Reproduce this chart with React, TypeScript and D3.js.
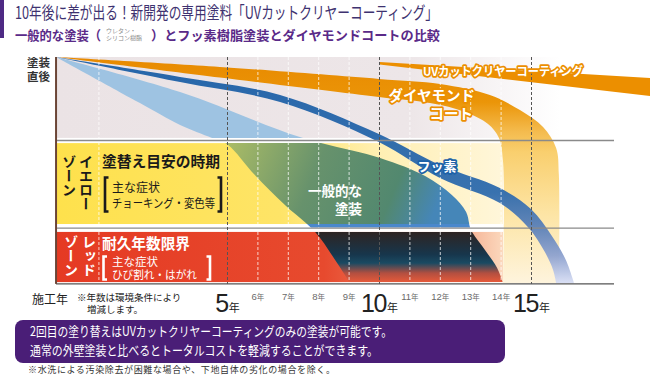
import React from 'react';
import * as d3 from 'd3';

const W = 650;
const H = 380;
const JP = "'Noto Sans CJK JP', 'Noto Sans', sans-serif";

// ---- text content ----
const TITLE = '10年後に差が出る！新開発の専用塗料「UVカットクリヤーコーティング」';
const SUB_A = '一般的な塗装（';
const SUB_NOTE = ['ウレタン・', 'シリコン樹脂'];
const SUB_B = '）とフッ素樹脂塗装とダイヤモンドコートの比較';
const Y_LABEL = ['塗装', '直後'];
const X_TITLE = '施工年';
const X_NOTE = ['※年数は環境条件により', '増減します。'];
const BOX_LINES = [
  '2回目の塗り替えはUVカットクリヤーコーティングのみの塗装が可能です。',
  '通常の外壁塗装と比べるとトータルコストを軽減することができます。',
];
const FOOTNOTE = '※水洗による汚染除去が困難な場合や、下地自体の劣化の場合を除く。';

// ---- axis ----
const MAJOR_YEARS = [5, 10, 15];
const MINOR_YEARS = [6, 7, 8, 9, 11, 12, 13, 14];
const START_YEAR = -0.64; // 施工直後
const END_YEAR = 18.9;
const LABEL_COL_YEAR = 0.77; // label column separator
const ZONE_END_YEAR = 14.06;

// ---- zones (durability level 100 = 塗装直後) ----
const ZONE_TOP = [100, 64.2];
const ZONE_YELLOW = [61.9, 26.1];
const ZONE_RED = [22.6, 0.4];
const ZONE_LINES = [63.05, 24.3, -0.4];

// ---- bands: [year, level] ----
const UV_TOP = [[10, 97.8], [18.9, 90.7]];
const UV_BOTTOM = [[10, 96.7], [18.9, 82.7]];

const DIAMOND_OUTER = [[-0.64, 100], [4.75, 95.6], [9.98, 90.3], [11.99, 88.1], [13.63, 83.2], [14.62, 76.5], [15.38, 69.0], [15.81, 59.7], [15.9, 47.8], [15.9, 0]];
const DIAMOND_INNER = [[-0.64, 100], [4.75, 90.9], [9.98, 82.3], [11.66, 79.6], [12.81, 75.7], [13.57, 70.4], [13.93, 64.2], [14.06, 54.4], [14.06, 0]];

const FLUORO_OUTER = [[-0.64, 100], [3.44, 91.2], [6.73, 83.2], [9.98, 65.9], [11.99, 52.2], [13.96, 42.0], [14.98, 32.7], [15.67, 20.8], [16.13, 10.2], [16.4, 0]];
const FLUORO_INNER = [[-0.64, 100], [3.44, 88.9], [6.73, 80.1], [9.98, 62.4], [11.99, 46.5], [13.96, 35.4], [14.88, 24.8], [15.44, 13.7], [15.71, 5.8], [15.81, 0]];

const GENERAL_OUTER = [[-0.64, 100], [3.44, 84.5], [7.38, 64.6], [10.02, 55.3], [11.5, 47.3], [12.38, 38.9], [12.85, 31.4], [13.01, 23.5], [13.47, 14.6], [13.87, 6.6], [14.06, 0]];
const GENERAL_INNER = [[-0.64, 100], [2.12, 79.6], [3.44, 69.9], [4.65, 63.3], [5.02, 61.1], [5.9, 47.8], [6.89, 34.5], [7.88, 22.6], [8.54, 10.2], [9.03, 0]];

const x = d3.scaleLinear().domain([5, 15]).range([227.5, 531.5]);
const y = d3.scaleLinear().domain([0, 100]).range([283, 57]);

const curved = d3
  .line<number[]>()
  .x((d) => x(d[0]))
  .y((d) => y(d[1]))
  .curve(d3.curveCatmullRom.alpha(0.5));
const straight = d3
  .line<number[]>()
  .x((d) => x(d[0]))
  .y((d) => y(d[1]));

function band(outer: number[][], inner: number[][], gen = curved) {
  const a = gen(outer) as string;
  const b = gen([...inner].reverse()) as string;
  return a + 'L' + b.slice(1) + 'Z';
}

const outline = (color: string, w = 3.5) => ({
  fill: '#fff',
  stroke: color,
  strokeWidth: w,
  strokeLinejoin: 'round' as const,
  paintOrder: 'stroke' as const,
});

export default function App() {
  const x0 = x(START_YEAR);
  const xEnd = x(END_YEAR);
  const xZone = x(ZONE_END_YEAR);
  const xLines = 614;
  const zoneRect = (z: number[]) => ({ y: y(z[0]), h: y(z[1]) - y(z[0]) });
  const zt = zoneRect(ZONE_TOP);
  const zy = zoneRect(ZONE_YELLOW);
  const zr = zoneRect(ZONE_RED);

  const generalPath = band(GENERAL_OUTER, GENERAL_INNER);
  const diamondPath = band(DIAMOND_OUTER, DIAMOND_INNER);
  const fluoroPath = band(FLUORO_OUTER, FLUORO_INNER);
  const uvPath = band(UV_TOP, UV_BOTTOM, straight);

  return (
    <svg width={W} height={H} style={{ position: 'absolute', left: 0, top: 0, background: '#fff' }} fontFamily={JP}>
      <defs>
        <linearGradient id="gTop" gradientUnits="userSpaceOnUse" x1={x0} x2={560} y1={0} y2={0}>
          <stop offset="0" stopColor="#ebe3e5" />
          <stop offset="0.7" stopColor="#ede6e8" />
          <stop offset="1" stopColor="#ffffff" />
        </linearGradient>
        <linearGradient id="gYellow" gradientUnits="userSpaceOnUse" x1={x0} x2={xZone} y1={0} y2={0}>
          <stop offset="0" stopColor="#fee14c" />
          <stop offset="0.5" stopColor="#fee467" />
          <stop offset="0.72" stopColor="#ffefb2" />
          <stop offset="1" stopColor="#fff6da" />
        </linearGradient>
        <linearGradient id="gRed" gradientUnits="userSpaceOnUse" x1={x0} x2={xZone} y1={0} y2={0}>
          <stop offset="0" stopColor="#e53a23" />
          <stop offset="0.6" stopColor="#e74a2e" />
          <stop offset="0.85" stopColor="#f09070" />
          <stop offset="1" stopColor="#fbd8bd" />
        </linearGradient>
        <linearGradient id="gGenYellow" gradientUnits="userSpaceOnUse" x1={230} y1={140} x2={440} y2={228}>
          <stop offset="0" stopColor="#a9bb66" />
          <stop offset="0.4" stopColor="#67926c" />
          <stop offset="0.75" stopColor="#52886f" />
          <stop offset="0.95" stopColor="#4586b8" />
        </linearGradient>
        <linearGradient id="gGenRed" gradientUnits="userSpaceOnUse" x1={0} y1={y(ZONE_RED[0])} x2={0} y2={y(ZONE_RED[1])}>
          <stop offset="0" stopColor="#2e2422" />
          <stop offset="0.45" stopColor="#17364c" />
          <stop offset="0.62" stopColor="#1a4a62" />
          <stop offset="0.82" stopColor="#b24f40" />
          <stop offset="1" stopColor="#e65a3a" />
        </linearGradient>
        <linearGradient id="gDiamond" gradientUnits="userSpaceOnUse" x1={0} y1={y(100)} x2={0} y2={y(0)}>
          <stop offset="0" stopColor="#e88a00" />
          <stop offset="0.2" stopColor="#eb9508" />
          <stop offset="0.33" stopColor="#f4bb4e" />
          <stop offset="0.42" stopColor="#f9cf6e" />
          <stop offset="0.7" stopColor="#fde5a6" />
          <stop offset="1" stopColor="#fef4dd" />
        </linearGradient>
        <linearGradient id="gFluoro" gradientUnits="userSpaceOnUse" x1={0} y1={y(100)} x2={0} y2={y(0)}>
          <stop offset="0" stopColor="#1b5fa6" />
          <stop offset="0.6" stopColor="#2e6bad" />
          <stop offset="0.75" stopColor="#5a80b8" />
          <stop offset="0.88" stopColor="#8ea2cf" />
          <stop offset="1" stopColor="#d8def4" />
        </linearGradient>
        <clipPath id="cTop"><rect x={x0} y={zt.y} width={xEnd - x0} height={zt.h} /></clipPath>
        <clipPath id="cYellow"><rect x={x0} y={zy.y} width={xEnd - x0} height={zy.h} /></clipPath>
        <clipPath id="cYellowEdge"><rect x={x0} y={zy.y + zy.h} width={xEnd - x0} height={3.5} /></clipPath>
        <clipPath id="cRed"><rect x={x0} y={zr.y} width={xEnd - x0} height={zr.h} /></clipPath>
      </defs>

      {/* header */}
      <rect x={0} y={0} width={4} height={38} fill="#4e2a84" />
      <text x={15} y={18.5} fontSize={17} fill="#3e3270" textLength={423} lengthAdjust="spacingAndGlyphs">{TITLE}</text>
      <text x={15} y={40} fontSize={13} fontWeight={700} fill="#5a2a88" textLength={86} lengthAdjust="spacingAndGlyphs">{SUB_A}</text>
      <text x={106} y={32.5} fontSize={6} fill="#8a8a8a">{SUB_NOTE[0]}</text>
      <text x={106} y={40} fontSize={6} fill="#8a8a8a">{SUB_NOTE[1]}</text>
      <text x={151} y={40} fontSize={13} fontWeight={700} fill="#5a2a88" textLength={289} lengthAdjust="spacingAndGlyphs">{SUB_B}</text>

      {/* y label */}
      <text x={27} y={66.5} fontSize={11.5} fontWeight={700} fill="#333">{Y_LABEL[0]}</text>
      <text x={27} y={80.5} fontSize={11.5} fontWeight={700} fill="#333">{Y_LABEL[1]}</text>

      {/* zones */}
      <rect x={x0} y={zt.y} width={560 - x0} height={zt.h} fill="url(#gTop)" />
      <rect x={x0} y={zy.y} width={xZone - x0} height={zy.h} fill="url(#gYellow)" />
      <rect x={x0} y={zr.y} width={xZone - x0} height={zr.h} fill="url(#gRed)" />

      {/* general paint band */}
      <path d={generalPath} fill="#9ec3e2" clipPath="url(#cTop)" />
      <path d={generalPath} fill="url(#gGenYellow)" clipPath="url(#cYellow)" />
      <path d={generalPath} fill="#4a88cc" clipPath="url(#cYellowEdge)" />
      <path d={generalPath} fill="url(#gGenRed)" clipPath="url(#cRed)" />

      {/* diamond coat */}
      <path d={diamondPath} fill="url(#gDiamond)" />
      {/* fluoro */}
      <path d={fluoroPath} fill="url(#gFluoro)" opacity={0.95} />
      {/* UV cut clear */}
      <path d={uvPath} fill="#ec8f00" />

      {/* minor grid */}
      {[LABEL_COL_YEAR, ...MINOR_YEARS].map((yr) => (
        <line key={'mg' + yr} x1={x(yr)} x2={x(yr)} y1={y(100)} y2={y(ZONE_RED[1])} stroke="#fff" strokeOpacity={0.75} strokeWidth={1} strokeDasharray="3,2" />
      ))}

      {/* zone separator lines */}
      {ZONE_LINES.map((lv, i) => (
        <line key={'zl' + i} x1={x0} x2={xLines} y1={y(lv)} y2={y(lv)} stroke={i === 2 ? '#555' : '#8a8a8a'} strokeWidth={1.3} />
      ))}
      {/* major grid */}
      {MAJOR_YEARS.map((yr) => (
        <line key={'MG' + yr} x1={x(yr)} x2={x(yr)} y1={y(100)} y2={y(ZONE_LINES[2])} stroke="#555" strokeWidth={1} strokeDasharray="3,2" />
      ))}
      {/* left axis */}
      <line x1={x0} x2={x0} y1={y(100)} y2={y(ZONE_LINES[2])} stroke="#6b4536" strokeWidth={2} />

      {/* band labels */}
      <text x={503} y={76} fontSize={12} fontWeight={700} textAnchor="middle" textLength={160} lengthAdjust="spacingAndGlyphs" {...outline('#ec8f00')}>UVカットクリヤーコーティング</text>
      <text x={475} y={101} fontSize={14.5} fontWeight={700} textAnchor="end" {...outline('#ec8f00')}>ダイヤモンド</text>
      <text x={473} y={119} fontSize={14.5} fontWeight={700} textAnchor="end" {...outline('#ec8f00')}>コート</text>
      <text x={437} y={171} fontSize={13} fontWeight={700} textAnchor="middle" {...outline('#1d62a8')}>フッ素</text>
      <text x={362} y={196} fontSize={13.5} fontWeight={700} textAnchor="end" fill="#fff">一般的な</text>
      <text x={362} y={213.5} fontSize={13.5} fontWeight={700} textAnchor="end" fill="#fff">塗装</text>

      {/* yellow zone labels */}
      <text x={86} y={155} fontSize={14} fontWeight={700} fill="#1a1a1a" style={{ writingMode: 'vertical-rl' }}>イエロー</text>
      <text x={69} y={155} fontSize={14} fontWeight={700} fill="#1a1a1a" style={{ writingMode: 'vertical-rl' }}>ゾーン</text>
      <text x={102} y={167} fontSize={15} fontWeight={700} fill="#1a1a1a" textLength={118} lengthAdjust="spacingAndGlyphs">塗替え目安の時期</text>
      <path d="M108.5,177.5 H105 V211.5 H108.5" fill="none" stroke="#1a1a1a" strokeWidth={2.6} />
      <path d="M217.5,177.5 H221 V211.5 H217.5" fill="none" stroke="#1a1a1a" strokeWidth={2.6} />
      <text x={112} y={192} fontSize={12} fill="#1a1a1a">主な症状</text>
      <text x={112} y={207.5} fontSize={12} fill="#1a1a1a" textLength={103} lengthAdjust="spacingAndGlyphs">チョーキング・変色等</text>

      {/* red zone labels */}
      <text x={89} y={235} fontSize={14} fontWeight={700} fill="#fff" style={{ writingMode: 'vertical-rl' }}>レッド</text>
      <text x={71} y={235} fontSize={14} fontWeight={700} fill="#fff" style={{ writingMode: 'vertical-rl' }}>ゾーン</text>
      <text x={102} y={249} fontSize={15} fontWeight={700} fill="#fff" textLength={88} lengthAdjust="spacingAndGlyphs">耐久年数限界</text>
      <path d="M107,256.5 H103.5 V279.5 H107" fill="none" stroke="#fff" strokeWidth={2.6} />
      <path d="M206.5,256.5 H210 V279.5 H206.5" fill="none" stroke="#fff" strokeWidth={2.6} />
      <text x={112} y={266} fontSize={11.5} fill="#fff">主な症状</text>
      <text x={112} y={278.5} fontSize={11.5} fill="#fff" textLength={85} lengthAdjust="spacingAndGlyphs">ひび割れ・はがれ</text>

      {/* x axis labels */}
      <text x={32} y={304} fontSize={12} fill="#222">{X_TITLE}</text>
      <text x={77} y={300.5} fontSize={9.5} fill="#222">{X_NOTE[0]}</text>
      <text x={87} y={312.5} fontSize={9.5} fill="#222">{X_NOTE[1]}</text>
      {MAJOR_YEARS.map((yr) => (
        <text key={'ML' + yr} x={x(yr)} y={312} textAnchor="middle" fill="#222" fontFamily="'Liberation Sans', Arial, sans-serif">
          <tspan fontSize={25} letterSpacing={-1.5}>{yr}</tspan>
          <tspan fontSize={11} fontFamily={JP} dx={1}>年</tspan>
        </text>
      ))}
      {MINOR_YEARS.map((yr) => (
        <text key={'ml' + yr} x={x(yr)} y={300} textAnchor="middle" fill="#6a6a6a" fontFamily="'Liberation Sans', Arial, sans-serif">
          <tspan fontSize={9.5}>{yr}</tspan>
          <tspan fontSize={7.5} fontFamily={JP}>年</tspan>
        </text>
      ))}

      {/* bottom message box */}
      <rect x={15} y={320} width={490} height={43} rx={8} fill="#4a1e77" />
      <text x={30} y={336} fontSize={13} fill="#fff" textLength={362} lengthAdjust="spacingAndGlyphs">{BOX_LINES[0]}</text>
      <text x={30} y={355} fontSize={13} fill="#fff" textLength={348} lengthAdjust="spacingAndGlyphs">{BOX_LINES[1]}</text>
      <text x={28} y={373} fontSize={9} fill="#333" textLength={307} lengthAdjust="spacing">{FOOTNOTE}</text>
    </svg>
  );
}
